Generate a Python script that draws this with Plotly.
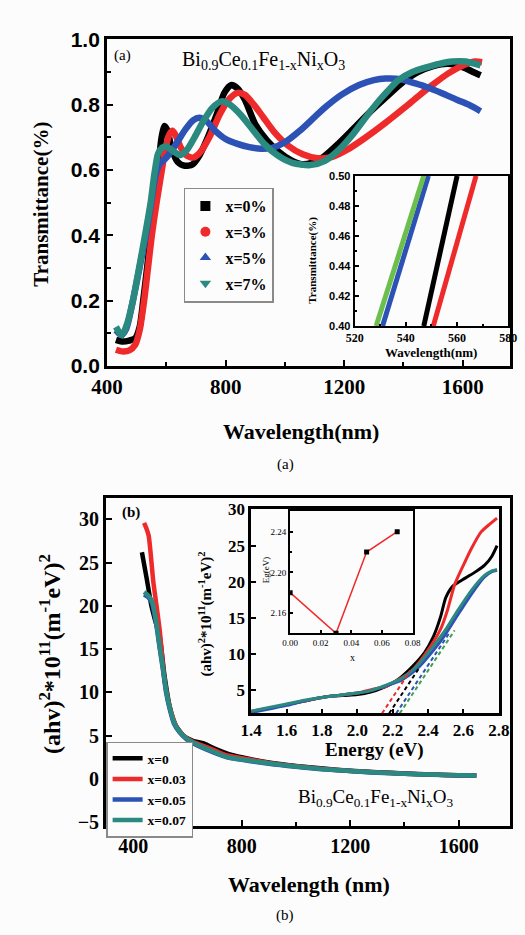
import plotly.graph_objects as go

W, H = 525, 935
SERIF = "Liberation Serif"
SANS = "Liberation Sans"

# ---------------- panel (a): transmittance spectra ----------------
wl_x0 = [430, 450, 475, 495, 510, 522, 535, 547, 560, 573, 584, 594, 604, 618, 638, 662, 688, 712, 740,
         770, 795, 818, 840, 865, 900, 940, 980, 1020, 1055, 1090, 1130, 1180, 1230, 1290, 1350, 1400,
         1450, 1500, 1550, 1600, 1635, 1660]
T_x0 = [0.080, 0.075, 0.078, 0.085, 0.120, 0.200, 0.300, 0.400, 0.500, 0.610, 0.700, 0.735, 0.720, 0.665,
        0.625, 0.613, 0.617, 0.645, 0.700, 0.770, 0.835, 0.860, 0.850, 0.815, 0.740, 0.690, 0.655, 0.630,
        0.618, 0.622, 0.640, 0.680, 0.725, 0.780, 0.830, 0.870, 0.900, 0.918, 0.925, 0.915, 0.900, 0.890]

wl_x3 = [430, 450, 475, 495, 510, 525, 538, 551, 567, 583, 598, 611, 621, 632, 648, 668, 690, 715, 745,
         780, 810, 840, 865, 895, 925, 965, 1010, 1060, 1110, 1160, 1210, 1270, 1340, 1405, 1450, 1500,
         1550, 1600, 1640, 1665]
T_x3 = [0.050, 0.045, 0.048, 0.065, 0.110, 0.200, 0.300, 0.400, 0.500, 0.590, 0.670, 0.710, 0.720, 0.705,
        0.670, 0.645, 0.638, 0.655, 0.700, 0.770, 0.815, 0.836, 0.830, 0.800, 0.764, 0.715, 0.675, 0.648,
        0.636, 0.640, 0.662, 0.698, 0.745, 0.792, 0.826, 0.862, 0.895, 0.920, 0.932, 0.930]

wl_x5 = [430, 448, 465, 485, 505, 518, 531, 549, 563, 578, 594, 615, 640, 665, 690, 711, 735, 765, 800,
         840, 880, 920, 957, 1000, 1050, 1100, 1140, 1190, 1250, 1300, 1340, 1390, 1440, 1478, 1530, 1580,
         1620, 1660]
T_x5 = [0.110, 0.095, 0.115, 0.190, 0.280, 0.340, 0.400, 0.500, 0.580, 0.620, 0.632, 0.655, 0.690, 0.725,
        0.752, 0.760, 0.750, 0.720, 0.695, 0.680, 0.670, 0.665, 0.668, 0.685, 0.720, 0.762, 0.795, 0.830,
        0.860, 0.875, 0.880, 0.878, 0.865, 0.854, 0.835, 0.815, 0.800, 0.780]

wl_x7 = [430, 450, 468, 487, 508, 528, 547, 560, 572, 585, 600, 620, 645, 668, 695, 725, 755, 786, 815,
         850, 890, 930, 975, 1025, 1085, 1135, 1180, 1230, 1280, 1320, 1350, 1383, 1430, 1480, 1520, 1565,
         1610, 1660]
T_x7 = [0.120, 0.094, 0.130, 0.200, 0.300, 0.400, 0.500, 0.590, 0.650, 0.668, 0.672, 0.660, 0.646, 0.660,
        0.700, 0.750, 0.790, 0.810, 0.800, 0.770, 0.725, 0.680, 0.645, 0.622, 0.615, 0.628, 0.660, 0.710,
        0.770, 0.815, 0.845, 0.875, 0.900, 0.915, 0.925, 0.932, 0.932, 0.920]

labels_a = ["x=0%", "x=3%", "x=5%", "x=7%"]
colors = ["#000000", "#ee2a2a", "#2d52b6", "#2b8a7f"]
symbols_a = ["square", "circle", "triangle-up", "triangle-down"]

# zoom on the absorption edge, T = 0.40 .. 0.50
edge_T = [0.40, 0.50]
edge_wl = [[547.0, 560.0], [550.7, 567.4], [530.9, 548.8], [528.4, 547.0]]
edge_colors = ["#000000", "#ee2a2a", "#2d52b6", "#6cbf4c"]

# ---------------- panel (b): Tauc plot data ----------------
wl_b = {
    "x0": [432, 450, 467, 480, 498, 515, 535, 555, 585, 620, 660, 700, 750, 800, 900, 1000, 1100, 1200,
           1300, 1400, 1500, 1600, 1665],
    "x3": [440, 448, 457, 474, 486, 498, 515, 537, 560, 585, 620, 655, 700, 747, 800, 900, 1000, 1100,
           1200, 1300, 1400, 1500, 1600, 1665],
    "x5": [440, 455, 469, 484, 498, 510, 521, 535, 550, 570, 596, 640, 700, 747, 800, 900, 1000, 1100,
           1200, 1300, 1400, 1500, 1600, 1665],
    "x7": [440, 455, 469, 484, 498, 510, 521, 535, 550, 570, 596, 640, 700, 747, 800, 900, 1000, 1100,
           1200, 1300, 1400, 1500, 1600, 1665],
}
ahv_b = {
    "x0": [26.2, 23.1, 20.0, 18.4, 16.4, 12.0, 8.3, 6.3, 5.0, 4.4, 4.1, 3.5, 2.9, 2.5, 1.9, 1.5, 1.2, 0.95,
           0.78, 0.62, 0.50, 0.42, 0.40],
    "x3": [29.6, 29.0, 28.1, 22.8, 20.0, 17.1, 11.5, 8.0, 6.0, 5.0, 4.3, 3.86, 3.3, 2.7, 2.4, 1.85, 1.45,
           1.15, 0.92, 0.75, 0.60, 0.50, 0.42, 0.40],
    "x5": [21.3, 21.0, 20.3, 18.0, 15.0, 12.5, 10.0, 8.0, 6.4, 5.4, 4.6, 3.8, 3.0, 2.5, 2.2, 1.75, 1.40,
           1.10, 0.90, 0.72, 0.58, 0.48, 0.40, 0.38],
    "x7": [21.6, 21.2, 20.6, 18.3, 15.2, 12.7, 10.3, 8.2, 6.6, 5.5, 4.7, 3.9, 3.1, 2.5, 2.25, 1.80, 1.42,
           1.12, 0.92, 0.74, 0.60, 0.50, 0.42, 0.40],
}
labels_b = ["x=0", "x=0.03", "x=0.05", "x=0.07"]
keys_b = ["x0", "x3", "x5", "x7"]

energy = {
    "x0": [1.40, 1.50, 1.60, 1.70, 1.80, 1.86, 1.95, 2.00, 2.07, 2.15, 2.22, 2.30, 2.38, 2.43, 2.47, 2.50,
           2.54, 2.61, 2.67, 2.72, 2.76, 2.79],
    "x3": [1.40, 1.50, 1.60, 1.70, 1.80, 1.90, 2.00, 2.10, 2.16, 2.22, 2.30, 2.39, 2.47, 2.51, 2.55, 2.60,
           2.645, 2.70, 2.75, 2.79],
    "x5": [1.40, 1.50, 1.60, 1.70, 1.80, 1.90, 2.00, 2.07, 2.15, 2.25, 2.34, 2.43, 2.50, 2.57, 2.645, 2.716,
           2.76, 2.79],
    "x7": [1.40, 1.50, 1.60, 1.70, 1.80, 1.90, 2.00, 2.07, 2.15, 2.25, 2.34, 2.43, 2.50, 2.57, 2.645, 2.716,
           2.76, 2.79],
}
tauc = {
    "x0": [2.0, 2.5, 3.0, 3.5, 4.0, 4.2, 4.3, 4.4, 4.7, 5.4, 6.3, 8.0, 10.2, 12.4, 15.1, 17.8, 19.4, 20.5,
           21.4, 22.3, 23.5, 25.0],
    "x3": [2.1, 2.5, 3.0, 3.5, 4.0, 4.3, 4.6, 5.2, 5.5, 6.3, 7.5, 10.2, 13.4, 16.1, 19.6, 22.3, 24.6, 26.9,
           28.0, 28.8],
    "x5": [1.9, 2.4, 2.9, 3.5, 4.0, 4.3, 4.6, 4.9, 5.5, 6.4, 8.0, 10.5, 12.8, 15.5, 18.3, 20.6, 21.4, 21.6],
    "x7": [2.1, 2.6, 3.1, 3.6, 4.0, 4.3, 4.6, 4.9, 5.6, 6.6, 8.4, 11.1, 13.4, 16.1, 18.8, 20.8, 21.5, 21.7],
}
tangent_colors = ["#000000", "#ee2a2a", "#2d52b6", "#3f9f4f"]

# band gap versus Ni content
ni_x = [0.00, 0.03, 0.05, 0.07]
eg = [2.18, 2.14, 2.22, 2.24]
# extrapolated linear sections: start at Eg on the energy floor, end energy, slope
tangent_end = [2.35, 2.30, 2.52, 2.55]
tangent_slope = 37.0
tauc_floor = 1.8

# ---------------------------------------------------------------------------
fig = go.Figure()

def dom_x(p0, p1):
    return [p0 / W, p1 / W]

def dom_y(top, bottom):
    return [1 - bottom / H, 1 - top / H]

# panel (a) spectra
for wl, T, c in zip([wl_x0, wl_x3, wl_x5, wl_x7], [T_x0, T_x3, T_x5, T_x7], colors):
    fig.add_trace(go.Scatter(x=wl, y=T, mode="lines", line=dict(color=c, width=6.5, shape="spline",
                  smoothing=0.7), showlegend=False, xaxis="x", yaxis="y"))
for c, name, sym in zip(colors, labels_a, symbols_a):
    fig.add_trace(go.Scatter(x=[None], y=[None], mode="markers", name=name,
                  marker=dict(color=c, symbol=sym, size=10), legend="legend", legendgroup=name,
                  xaxis="x", yaxis="y"))

# inset of (a)
for wls, c in zip(edge_wl, edge_colors):
    fig.add_trace(go.Scatter(x=wls, y=edge_T, mode="lines", line=dict(color=c, width=5),
                  showlegend=False, xaxis="x2", yaxis="y2"))

# panel (b) main curves
for k, c, name in zip(keys_b, colors, labels_b):
    fig.add_trace(go.Scatter(x=wl_b[k], y=ahv_b[k], mode="lines", name=name,
                  line=dict(color=c, width=4.5, shape="spline", smoothing=0.6),
                  legend="legend2", xaxis="x3", yaxis="y3"))

# Tauc inset curves
for k, c in zip(keys_b, colors):
    fig.add_trace(go.Scatter(x=energy[k], y=tauc[k], mode="lines",
                  line=dict(color=c, width=3, shape="spline", smoothing=0.6),
                  showlegend=False, xaxis="x4", yaxis="y4"))
# extrapolated tangents
for e0, e1, c in zip(eg, tangent_end, tangent_colors):
    fig.add_trace(go.Scatter(x=[e0, e1], y=[tauc_floor, tauc_floor + tangent_slope * (e1 - e0)],
                  mode="lines", line=dict(color=c, width=2, dash="4px,3px"),
                  showlegend=False, xaxis="x4", yaxis="y4"))

# Eg vs x
fig.add_trace(go.Scatter(x=ni_x, y=eg, mode="lines+markers", line=dict(color="#ee2a2a", width=1.5),
              marker=dict(color="#000000", symbol="square", size=5),
              showlegend=False, xaxis="x5", yaxis="y5"))

# ---------------------------------------------------------------------------
def axis(**kw):
    base = dict(showline=True, linecolor="#000000", linewidth=2.5, mirror=True, ticks="inside",
                tickcolor="#000000", tickwidth=2, ticklen=6, showgrid=False, zeroline=False)
    base.update(kw)
    return base

def bold_serif(s):
    return dict(family=SERIF, size=s, color="#000000", weight="bold")

fig.update_layout(
    width=W, height=H, margin=dict(l=0, r=0, t=0, b=0),
    paper_bgcolor="#fcfcfc", plot_bgcolor="#fcfcfc",
    xaxis=axis(domain=dom_x(96, 521), range=[400, 1760], tick0=400, dtick=400, anchor="y",
               tickfont=bold_serif(21), linewidth=3,
               minor=dict(ticks="inside", dtick=200, tick0=400, ticklen=4, tickcolor="#000000")),
    yaxis=axis(domain=dom_y(28, 363), range=[0, 1], dtick=0.2, tickformat=".1f", anchor="x",
               tickfont=dict(family=SANS, size=21, color="#000000", weight="bold"), linewidth=3,
               minor=dict(ticks="inside", dtick=0.1, ticklen=4, tickcolor="#000000")),
    xaxis2=axis(domain=dom_x(357, 519), range=[520, 580], dtick=20, tick0=520, anchor="y2",
                tickfont=bold_serif(12), ticklen=4, linewidth=2,
                minor=dict(ticks="inside", dtick=10, ticklen=2, tickcolor="#000000")),
    yaxis2=axis(domain=dom_y(168, 322), range=[0.40, 0.50], dtick=0.02, tickformat=".2f", anchor="x2",
                tickfont=dict(family=SANS, size=11, color="#000000", weight="bold"), ticklen=4,
                linewidth=2, minor=dict(ticks="inside", dtick=0.01, ticklen=2, tickcolor="#000000")),
    xaxis3=axis(domain=dom_x(95, 521), range=[300, 1790], tick0=400, dtick=400, anchor="y3",
                tickfont=bold_serif(20), linewidth=3,
                minor=dict(ticks="inside", dtick=200, tick0=400, ticklen=4, tickcolor="#000000")),
    yaxis3=axis(domain=dom_y(498, 835), range=[-5.5, 32.5], tick0=0, dtick=5, anchor="x3",
                tickfont=bold_serif(20), linewidth=3),
    xaxis4=axis(domain=dom_x(248, 509), range=[1.4, 2.8], dtick=0.2, tick0=1.4, tickformat=".1f",
                anchor="y4", tickfont=bold_serif(17), ticklen=5),
    yaxis4=axis(domain=dom_y(510, 719), range=[1.8, 30], tick0=0, dtick=5, anchor="x4",
                tickfont=bold_serif(17), ticklen=5),
    xaxis5=axis(domain=dom_x(289, 418), range=[0, 0.08], dtick=0.02, tick0=0, tickformat=".2f",
                anchor="y5", tickfont=dict(family=SERIF, size=9, color="#000000"), ticklen=3,
                linewidth=2),
    yaxis5=axis(domain=dom_y(512, 637), range=[2.14, 2.26], tick0=2.16, dtick=0.04, tickformat=".2f",
                anchor="x5", tickfont=dict(family=SERIF, size=9, color="#000000"), ticklen=3,
                linewidth=2, minor=dict(ticks="inside", dtick=0.02, tick0=2.16, ticklen=2,
                                        tickcolor="#000000")),
    legend=dict(x=177 / W, y=1 - 180 / H, xanchor="left", yanchor="top", bordercolor="#8a8a8a",
                borderwidth=1.5, bgcolor="rgba(255,255,255,0)", font=bold_serif(16),
                tracegroupgap=2, itemwidth=30),
    legend2=dict(x=95 / W, y=1 - 748 / H, xanchor="left", yanchor="top", bordercolor="#8a8a8a",
                 borderwidth=1.5, bgcolor="#fcfcfc", font=bold_serif(13.5), itemwidth=30),
)

def label(text, x, y, size, bold=False, angle=0, family=SERIF):
    fig.add_annotation(text=text, x=x / W, y=1 - y / H, xref="paper", yref="paper", showarrow=False,
                       textangle=angle, xanchor="center", yanchor="middle",
                       font=dict(family=family, size=size, color="#000000",
                                 weight="bold" if bold else "normal"))

formula = "Bi<sub>0.9</sub>Ce<sub>0.1</sub>Fe<sub>1-x</sub>Ni<sub>x</sub>O<sub>3</sub>"
ahv = "(ahv)<sup>2</sup>*10<sup>11</sup>(m<sup>-1</sup>eV)<sup>2</sup>"

label("(a)", 112, 45, 15)
label(formula, 261, 50, 20)
label("Transmittance(%)", 26, 197, 21, bold=True, angle=-90)
label("Wavelength(nm)", 300, 430, 22, bold=True)
label("(a)", 284, 464, 15)
label("Transmittance(%)", 313, 254, 11, bold=True, angle=-90)
label("Wavelength(nm)", 438, 349, 13, bold=True)

label("(b)", 121, 513, 15, bold=True)
label(ahv, 36, 658, 24, bold=True, angle=-90)
label("Wavelength (nm)", 309, 895, 22, bold=True)
label("(b)", 284, 926, 15)
label(formula, 379, 806, 19)
label(ahv, 200, 617, 15, bold=True, angle=-90)
label("Energy (eV)", 378, 757, 19, bold=True)
label("x", 355, 662, 10)
label("Eg(eV)", 264, 572, 9, angle=-90)

fig.write_html("out.html")
